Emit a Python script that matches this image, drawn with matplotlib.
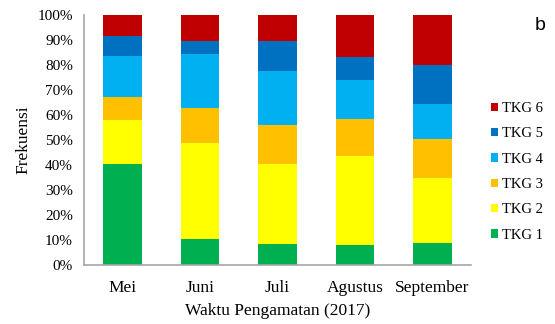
import matplotlib
matplotlib.use("Agg")
import matplotlib.pyplot as plt
import numpy as np

months = ["Mei", "Juni", "Juli", "Agustus", "September"]
series = ["TKG 1", "TKG 2", "TKG 3", "TKG 4", "TKG 5", "TKG 6"]
tkg1 = [40.5, 10.3, 8.3, 7.9, 8.7]
tkg2 = [17.4, 38.4, 32.2, 35.8, 26.1]
tkg3 = [9.3, 14.0, 15.4, 14.6, 15.7]
tkg4 = [16.3, 21.7, 21.8, 15.8, 13.8]
tkg5 = [8.1, 5.1, 11.8, 9.0, 15.6]
tkg6 = [8.4, 10.5, 10.5, 16.9, 20.1]
colors = ["#00b050", "#ffff00", "#ffc000", "#00b0f0", "#0070c0", "#c00000"]
yticks = [0, 10, 20, 30, 40, 50, 60, 70, 80, 90, 100]

serif = ["Liberation Serif", "DejaVu Serif"]

fig = plt.figure(figsize=(5.55, 3.24), dpi=100)
ax = fig.add_axes([84 / 555, 1 - 265 / 324, 387 / 555, 250 / 324])

x = np.arange(len(months))
bottom = np.zeros(len(months))
handles = []
for name, vals, col in zip(series, [tkg1, tkg2, tkg3, tkg4, tkg5, tkg6], colors):
    vals = np.array(vals, dtype=float)
    b = ax.bar(x, vals, width=0.5, bottom=bottom, color=col, label=name, linewidth=0)
    handles.append(b)
    bottom += vals

ax.set_xlim(-0.5, len(months) - 0.5)
ax.set_ylim(0, 100)
ax.set_yticks(yticks)
ax.set_yticklabels([f"{t}%" for t in yticks], family=serif, fontsize=11)
ax.set_xticks(x)
ax.set_xticklabels(months, family=serif, fontsize=12.5)
ax.tick_params(axis="both", length=0)
ax.tick_params(axis="y", pad=8)
ax.tick_params(axis="x", pad=11)

for s in ["top", "right"]:
    ax.spines[s].set_visible(False)
for s in ["left", "bottom"]:
    ax.spines[s].set_color("#a6a6a6")
    ax.spines[s].set_linewidth(1.2)

ax.set_ylabel("Frekuensi", family=serif, fontsize=12.5, labelpad=4)
ax.set_xlabel("Waktu Pengamatan (2017)", family=serif, fontsize=12.5, labelpad=5)

leg = fig.legend(handles[::-1], series[::-1], loc="upper left",
                 bbox_to_anchor=(485 / 555, 1 - 96 / 324), frameon=False,
                 prop={"family": serif, "size": 10.5}, handlelength=0.5,
                 handleheight=0.5, handletextpad=0.3, labelspacing=0.85,
                 borderaxespad=0)

fig.text(540 / 555, 1 - 25 / 324, "b", fontsize=14, ha="center", va="center",
         family="Liberation Sans")

fig.savefig("out.png", dpi=100)
